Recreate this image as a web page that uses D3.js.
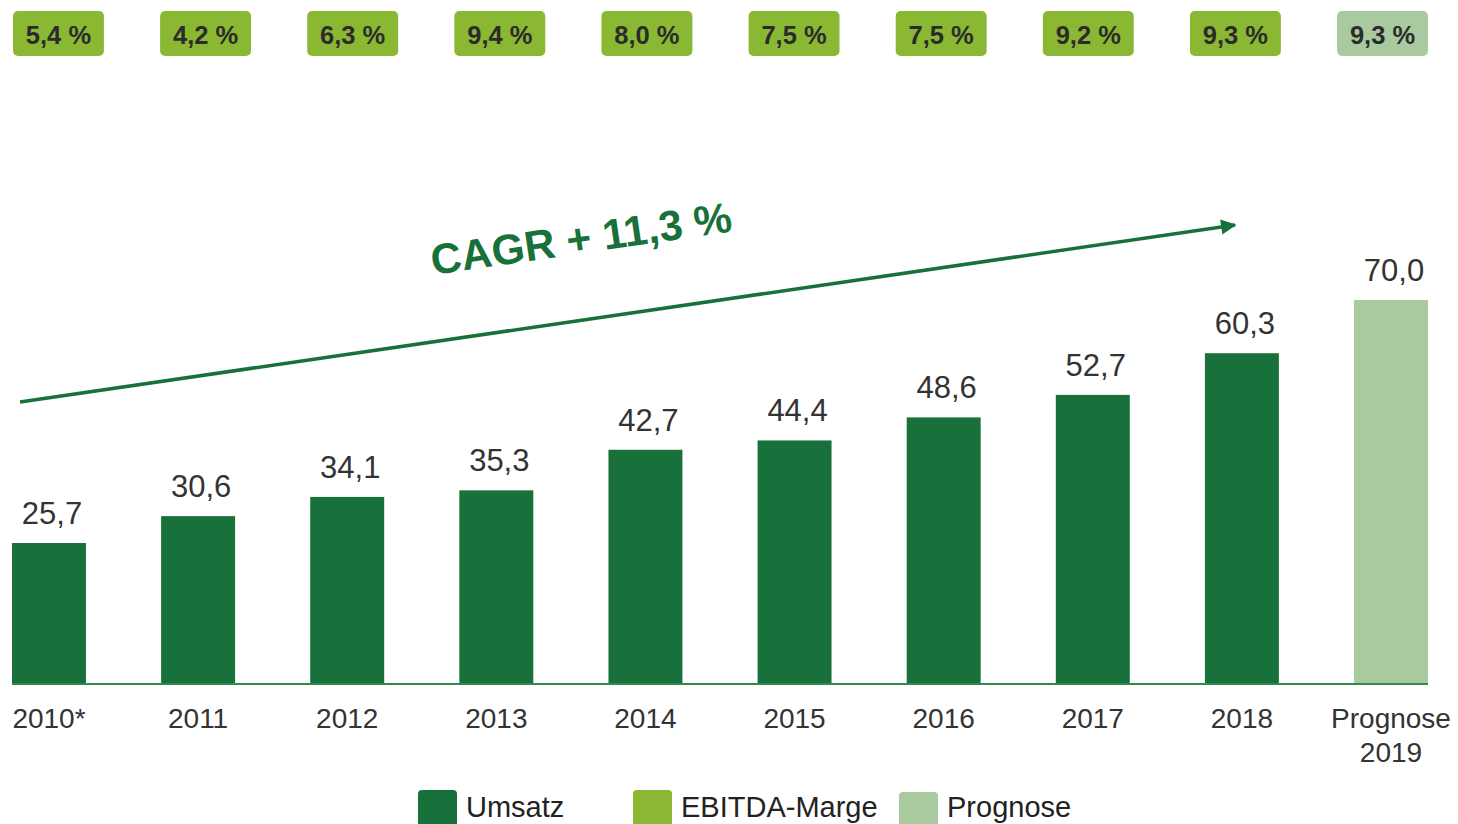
<!DOCTYPE html>
<html><head><meta charset="utf-8">
<script src="https://cdn.jsdelivr.net/npm/d3@7"></script>
<style>body{margin:0;background:#fff;}svg{display:block;font-family:Arial,"Liberation Sans",sans-serif;}</style>
</head><body>
<svg id="c" width="1458" height="824"></svg>
<script>
const categories = ["2010*","2011","2012","2013","2014","2015","2016","2017","2018","Prognose\n2019"];
const umsatz = [25.7,30.6,34.1,35.3,42.7,44.4,48.6,52.7,60.3,70.0];
const ebitdaMarge = [5.4,4.2,6.3,9.4,8.0,7.5,7.5,9.2,9.3,9.3];
const isForecast = [false,false,false,false,false,false,false,false,false,true];
const cagrLabel = "CAGR + 11,3 %";
const legendItems = ["Umsatz","EBITDA-Marge","Prognose"];

const C_DARK = "#18703a", C_LIGHT = "#8ab833", C_PROG = "#a9c99f";
const svg = d3.select("#c");
const fmt = v => v.toFixed(1).replace(".", ",");

const x = d3.scaleBand().domain(categories).range([12,1428]).paddingInner(0.504).paddingOuter(0);
const y = d3.scaleLinear().domain([0,70]).range([684,300]);
const xb = d3.scaleBand().domain(categories).range([13,1428]).paddingInner(0.382).paddingOuter(0);

// badges
const bg = svg.append("g");
categories.forEach((c,i)=>{
  bg.append("rect").attr("x",xb(c)).attr("y",11).attr("width",xb.bandwidth()).attr("height",45)
    .attr("rx",5).attr("fill", isForecast[i]?C_PROG:C_LIGHT);
  bg.append("text").attr("x",xb(c)+xb.bandwidth()/2).attr("y",44).attr("text-anchor","middle")
    .attr("font-size",25.5).attr("font-weight","bold").attr("fill","#2b2b2b").text(fmt(ebitdaMarge[i])+" %");
});

// bars
svg.append("g").selectAll("rect").data(categories).join("rect")
  .attr("x",d=>x(d)).attr("width",x.bandwidth())
  .attr("y",(d,i)=>y(umsatz[i])).attr("height",(d,i)=>y(0)-y(umsatz[i]))
  .attr("fill",(d,i)=>isForecast[i]?C_PROG:C_DARK);

// axis line
svg.append("line").attr("x1",12).attr("x2",1428).attr("y1",y(0)).attr("y2",y(0))
  .attr("stroke","#2f8a4c").attr("stroke-width",2);

// value labels
svg.append("g").selectAll("text").data(categories).join("text")
  .attr("x",d=>x(d)+x.bandwidth()/2+3).attr("y",(d,i)=>y(umsatz[i])-19)
  .attr("text-anchor","middle").attr("font-size",31).attr("fill","#333")
  .text((d,i)=>fmt(umsatz[i]));

// category labels
categories.forEach(c=>{
  const lines = c.split("\n");
  const t = svg.append("text").attr("text-anchor","middle").attr("font-size",28).attr("fill","#333");
  lines.forEach((l,j)=>{
    t.append("tspan").attr("x",x(c)+x.bandwidth()/2).attr("y",728+j*34).text(l);
  });
});

// CAGR arrow
const defs = svg.append("defs");
defs.append("marker").attr("id","ah").attr("viewBox","0 0 10 10").attr("refX",9).attr("refY",5)
  .attr("markerWidth",5).attr("markerHeight",4.4).attr("orient","auto").attr("markerUnits","strokeWidth")
  .append("path").attr("d","M0,0L10,5L0,10Z").attr("fill",C_DARK);
svg.append("line").attr("x1",20).attr("y1",402).attr("x2",1235).attr("y2",225)
  .attr("stroke",C_DARK).attr("stroke-width",3.5).attr("marker-end","url(#ah)");
const ang = Math.atan2(225-402,1235-20)*180/Math.PI;
svg.append("text").attr("transform",`translate(433,275) rotate(${ang})`)
  .attr("font-size",42.5).attr("font-weight","bold").attr("fill",C_DARK).text(cagrLabel);

// legend
const lx = [418,633,899], lcol=[C_DARK,C_LIGHT,C_PROG], ly=[790,790,792], lty=[817,817,817];
legendItems.forEach((l,i)=>{
  svg.append("rect").attr("x",lx[i]).attr("y",ly[i]).attr("width",39).attr("height",42).attr("rx",4).attr("fill",lcol[i]);
  svg.append("text").attr("x",lx[i]+48).attr("y",lty[i]).attr("font-size",29).attr("fill","#222").text(l);
});
</script>
</body></html>
